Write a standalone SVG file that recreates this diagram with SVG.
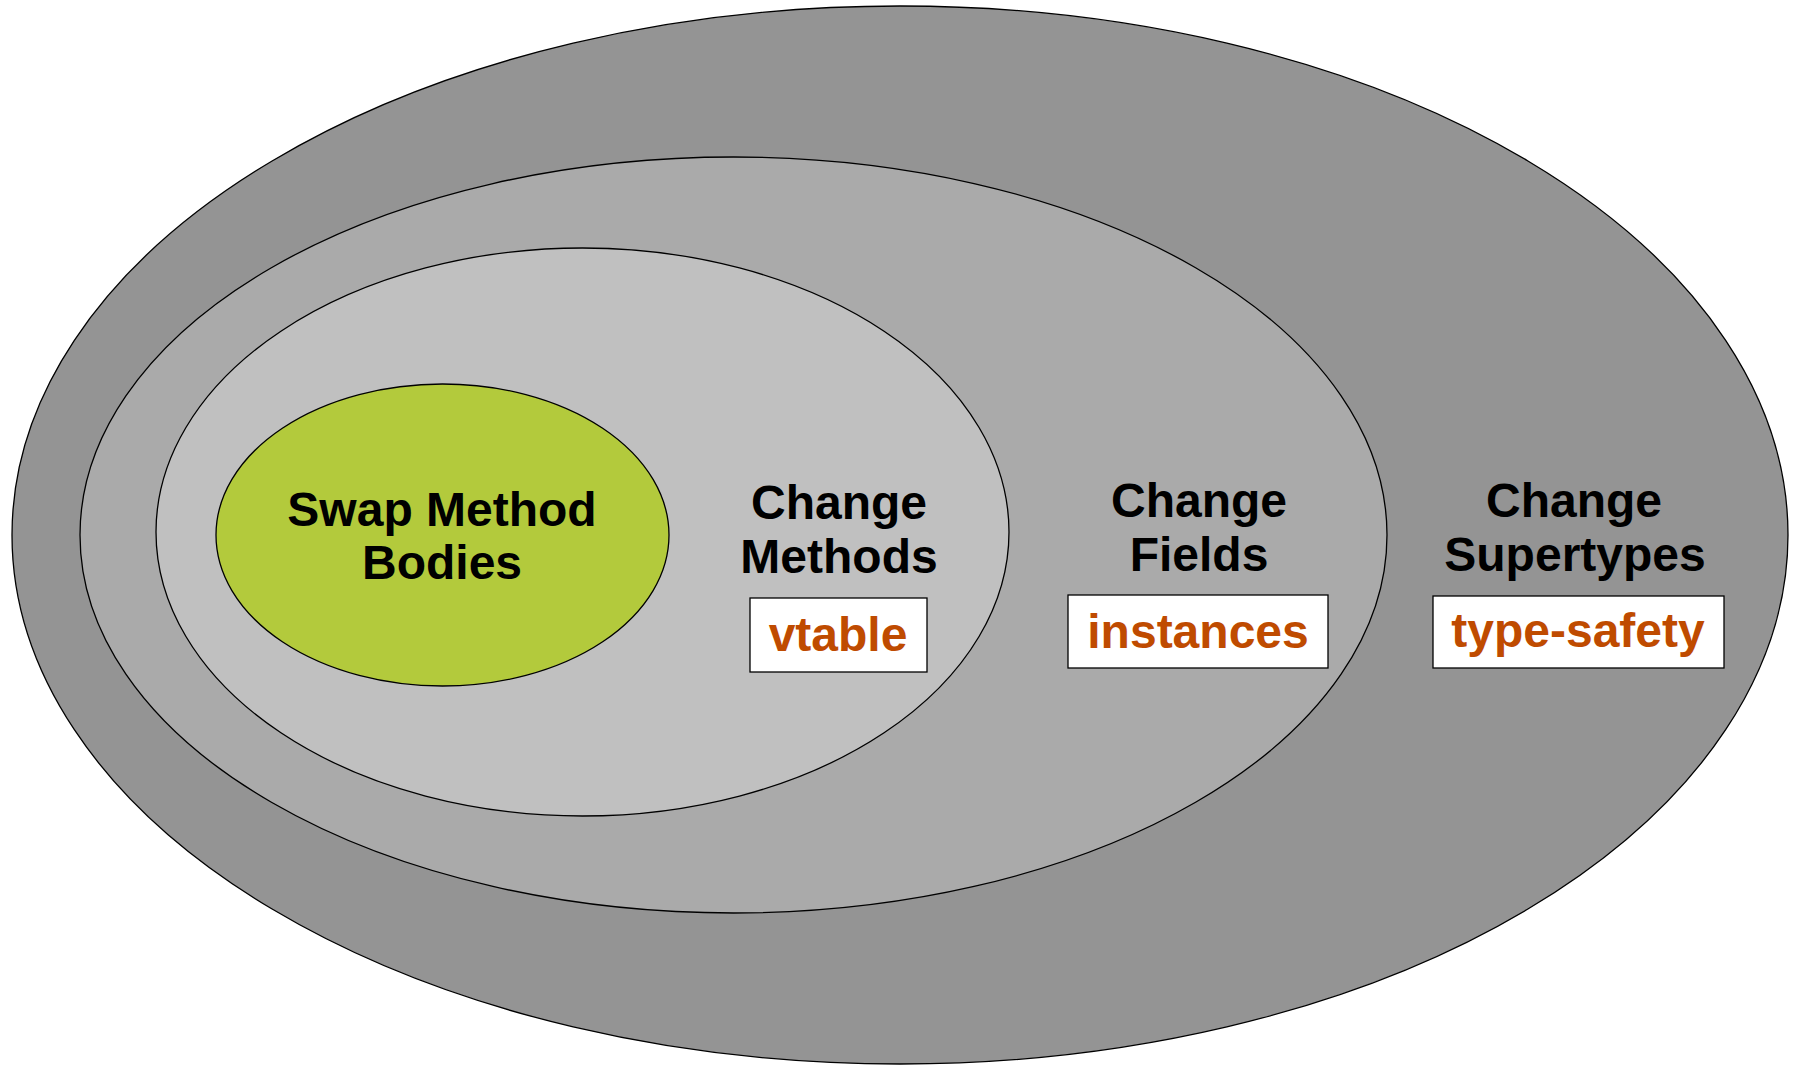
<svg xmlns="http://www.w3.org/2000/svg" width="1794" height="1066" viewBox="0 0 1794 1066">
<style>
.ring{stroke:#000;stroke-width:1.3}
.lbl{font-family:"Liberation Sans",Arial,sans-serif;font-weight:bold;font-size:48px;fill:#000;text-anchor:middle}
.tag{font-family:"Liberation Sans",Arial,sans-serif;font-weight:bold;font-size:48px;fill:#BF4B00;text-anchor:middle}
.box{fill:#fff;stroke:#000;stroke-width:1.3}
</style>
<rect width="1794" height="1066" fill="#fff"/>
<g id="supertypes">
<ellipse class="ring" cx="900" cy="535" rx="888" ry="529" fill="#949494"/>
</g>
<g id="fields">
<ellipse class="ring" cx="733.5" cy="535" rx="653.5" ry="378" fill="#aaaaaa"/>
</g>
<g id="methods">
<ellipse class="ring" cx="582.5" cy="532" rx="426.5" ry="284" fill="#c0c0c0"/>
</g>
<g id="swap">
<ellipse class="ring" cx="442.5" cy="535" rx="226.5" ry="151" fill="#b3ca3c"/>
<text class="lbl" x="442" y="526">Swap Method</text>
<text class="lbl" x="442" y="579">Bodies</text>
</g>
<g id="methods-label">
<text class="lbl" x="839" y="519">Change</text>
<text class="lbl" x="839" y="573">Methods</text>
<rect class="box" x="750" y="598" width="177" height="74"/>
<text class="tag" x="838" y="651">vtable</text>
</g>
<g id="fields-label">
<text class="lbl" x="1199" y="517">Change</text>
<text class="lbl" x="1199" y="571">Fields</text>
<rect class="box" x="1068" y="595" width="260" height="73"/>
<text class="tag" x="1198" y="648">instances</text>
</g>
<g id="supertypes-label">
<text class="lbl" x="1574" y="517">Change</text>
<text class="lbl" x="1575" y="571">Supertypes</text>
<rect class="box" x="1433" y="596" width="291" height="72"/>
<text class="tag" x="1578" y="647">type-safety</text>
</g>
<g id="connectors"></g>
</svg>
